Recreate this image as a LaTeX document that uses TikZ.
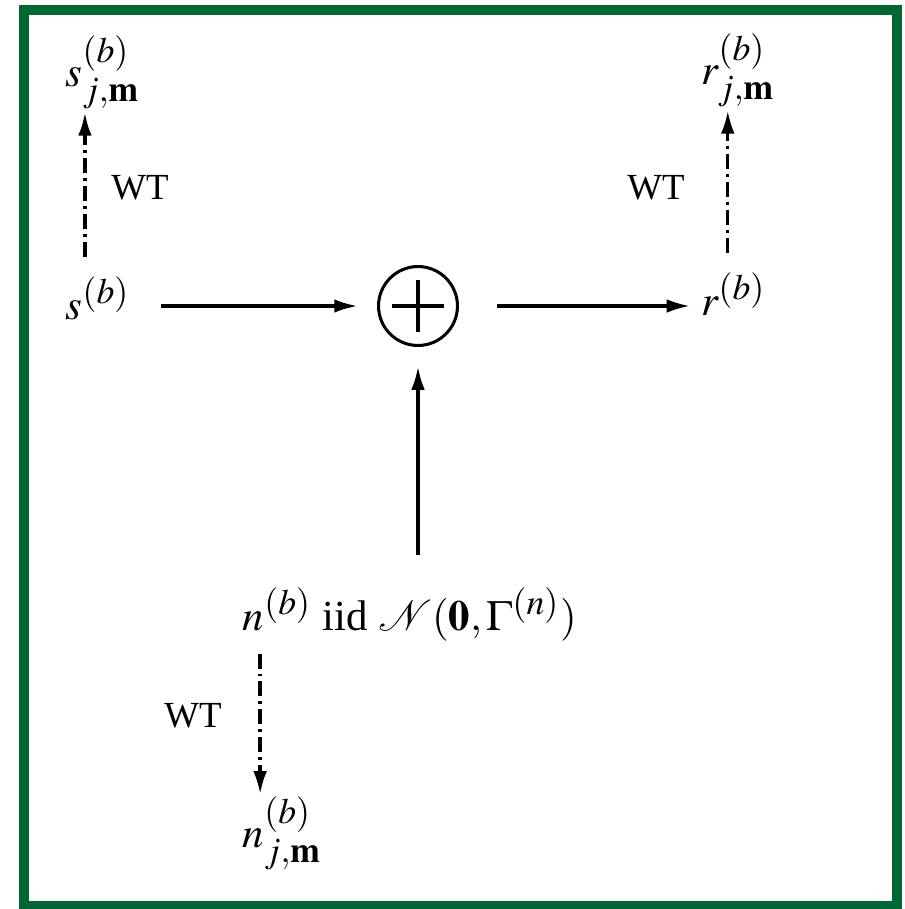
\documentclass[tikz,border=0pt]{standalone}
\usepackage{mathptmx}
\usepackage[no-math]{fontspec}
\setmainfont{Liberation Serif}
\usetikzlibrary{arrows.meta}
\DeclareMathSizes{12}{12}{10}{8}
\definecolor{framegreen}{RGB}{0,102,51}
\begin{document}
\begin{tikzpicture}[x=0.28pt,y=-0.28pt,
  every node/.style={font=\fontsize{12}{14}\selectfont, inner sep=0pt, outer sep=0pt},
  conn/.style={line width=0.85pt, -{Latex[length=6.5pt,width=3.8pt]}},
  wt/.style={conn, line width=0.95pt, dash pattern=on 4.2pt off 1.4pt on 0.8pt off 1.4pt},
  lbl/.style={font=\fontsize{10.3}{12}\selectfont}]
\useasboundingbox (0,0) rectangle (905,909);
\fill[white] (0,0) rectangle (905,909);
\draw[framegreen, line width=2.8pt] (24,9.5) rectangle (897,906);

% nodes
\node[anchor=base west] (sjm) at (66,86) {$s_{j,\mathbf{m}}^{(b)}$};
\node[anchor=base west] (s) at (66,319) {$s^{(b)}$};
\node[circle, draw, line width=0.85pt, minimum size=22.1pt] (sum) at (418,306) {};
\node[anchor=base west] (r) at (701,315) {$r^{(b)}$};
\node[anchor=base west] (rjm) at (701,84) {$r_{j,\mathbf{m}}^{(b)}$};
\node[anchor=base west] (n) at (243,630) {$n^{(b)}$ iid $\mathcal{N}(\mathbf{0},\Gamma^{(n)})$};
\node[anchor=base west] (njm) at (243,847) {$n_{j,\mathbf{m}}^{(b)}$};
\node[lbl] (wt1) at (140,188) {WT};
\node[lbl] (wt2) at (656,188) {WT};
\node[lbl] (wt3) at (193,716) {WT};

% plus sign
\draw[line width=0.85pt] ([xshift=-7.3pt]sum.center) -- ([xshift=7.3pt]sum.center);
\draw[line width=0.85pt] ([yshift=-7.3pt]sum.center) -- ([yshift=7.3pt]sum.center);

% connectors
\draw[conn, shorten <=8.7pt, shorten >=5.9pt] (s.east |- sum.west) -- (sum.west);
\draw[conn, shorten <=11.2pt, shorten >=3.1pt] (sum.east) -- (r.west |- sum.east);
\draw[conn, shorten <=9.2pt, shorten >=5.9pt] (sum.south |- n.north) -- (sum.south);
\draw[wt, shorten <=5.6pt, shorten >=1pt] ([xshift=5.3pt]s.north west) -- ([xshift=5.3pt]sjm.south west);
\draw[wt, shorten <=5.6pt, shorten >=1pt] ([xshift=7.5pt]r.north west) -- ([xshift=7.5pt]rjm.south west);
\draw[wt, shorten <=3.6pt, shorten >=0.6pt] ([xshift=4.8pt]n.south west) -- ([xshift=4.8pt]njm.north west);
\end{tikzpicture}
\end{document}
